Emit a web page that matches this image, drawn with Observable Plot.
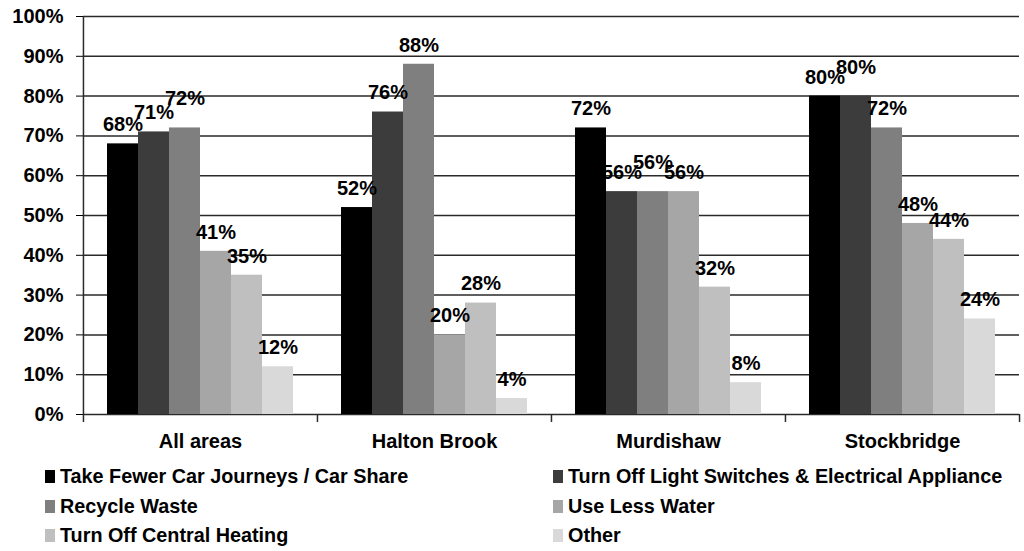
<!DOCTYPE html>
<html>
<head>
<meta charset="utf-8">
<script src="https://cdn.jsdelivr.net/npm/d3@7"></script>
<script src="https://cdn.jsdelivr.net/npm/@observablehq/plot@0.6"></script>
<style>
  html, body { margin: 0; padding: 0; background: #fff; }
  #chart { width: 1024px; }
  .legend { position: relative; width: 1024px; height: 96px; font-family: "Liberation Sans", Arial, sans-serif; font-weight: bold; font-size: 19.8px; color: #000; }
  .legend .item { position: absolute; display: flex; align-items: center; white-space: nowrap; }
  .legend .sw { width: 10px; height: 13px; margin-right: 5px; display: inline-block; }
</style>
</head>
<body>
<div id="chart"></div>
<div class="legend" id="legend"></div>
<script>
const groups = ["All areas", "Halton Brook", "Murdishaw", "Stockbridge"];
const series = [
  "Take Fewer Car Journeys / Car Share",
  "Turn Off Light Switches & Electrical Appliance",
  "Recycle Waste",
  "Use Less Water",
  "Turn Off Central Heating",
  "Other"
];
const takeFewerCarJourneys = [68, 52, 72, 80];
const turnOffLightSwitches = [71, 76, 56, 80];
const recycleWaste = [72, 88, 56, 72];
const useLessWater = [41, 20, 56, 48];
const turnOffCentralHeating = [35, 28, 32, 44];
const other = [12, 4, 8, 24];
const yTicks = [0, 10, 20, 30, 40, 50, 60, 70, 80, 90, 100];
const colors = ["#000000", "#3c3c3c", "#7f7f7f", "#a6a6a6", "#bfbfbf", "#d9d9d9"];

const seriesValues = [takeFewerCarJourneys, turnOffLightSwitches, recycleWaste, useLessWater, turnOffCentralHeating, other];
const data = [];
groups.forEach((g, gi) => {
  let prev = null;
  series.forEach((s, si) => {
    const v = seriesValues[si][gi];
    // simple label collision avoidance: lift a label when its neighbour has nearly the same value
    const lifted = prev !== null && !prev.lifted && Math.abs(prev.value - v) <= 2;
    const d = {group: g, series: s, value: v, lifted};
    data.push(d);
    prev = d;
  });
});

const W = 1024, H = 455, mL = 81, mR = 4, mT = 16, mB = 41;
const po = 0.77;
const facetW = (W - mL - mR) / groups.length;
const step = facetW / (series.length + 2 * po);
const edge = po * step + step / 2;

const chart = Plot.plot({
  width: W,
  height: H,
  marginLeft: mL,
  marginRight: mR,
  marginTop: mT,
  marginBottom: mB,
  style: {fontFamily: "'Liberation Sans', Arial, sans-serif", fontWeight: "bold", fontSize: "20px", color: "#000", background: "#fff"},
  fx: {domain: groups, padding: 0, label: null, axis: "bottom", tickSize: 0, tickPadding: 19},
  x: {domain: series, paddingInner: 0, paddingOuter: po, axis: null},
  y: {domain: [0, 100], label: null, axis: null},
  color: {domain: series, range: colors},
  marks: [
    Plot.ruleY(yTicks, {stroke: "#2a2a2a", strokeWidth: 1.5}),
    Plot.barY(data, {fx: "group", x: "series", y: "value", fill: "series"}),
    Plot.text(data.filter(d => !d.lifted), {fx: "group", x: "series", y: "value", text: d => d.value + "%", dy: -19, fontSize: 20, fill: "#000"}),
    Plot.text(data.filter(d => d.lifted), {fx: "group", x: "series", y: "value", text: d => d.value + "%", dy: -29, fontSize: 20, fill: "#000"}),
    Plot.ruleX(groups, {fx: d => d, x: () => series[0], y1: -2, y2: (d, i) => i === 0 ? 100 : 0, dx: -edge, stroke: "#2a2a2a", strokeWidth: 1.5}),
    Plot.ruleX([groups[groups.length - 1]], {fx: d => d, x: () => series[series.length - 1], y1: -2, y2: 0, dx: edge, stroke: "#2a2a2a", strokeWidth: 1.5}),
    Plot.axisY({ticks: yTicks, tickFormat: d => d + "%", tickSize: 7, tickPadding: 13, label: null, fontSize: 20})
  ]
});
document.getElementById("chart").appendChild(chart);

const legend = document.getElementById("legend");
const colX = [45, 553];
const rowY = [10, 40, 69];
series.forEach((s, i) => {
  const item = document.createElement("div");
  item.className = "item";
  item.style.left = colX[i % 2] + "px";
  item.style.top = rowY[Math.floor(i / 2)] + "px";
  const sw = document.createElement("span");
  sw.className = "sw";
  sw.style.background = colors[i];
  const t = document.createElement("span");
  t.textContent = s;
  item.appendChild(sw);
  item.appendChild(t);
  legend.appendChild(item);
});
</script>
</body>
</html>
